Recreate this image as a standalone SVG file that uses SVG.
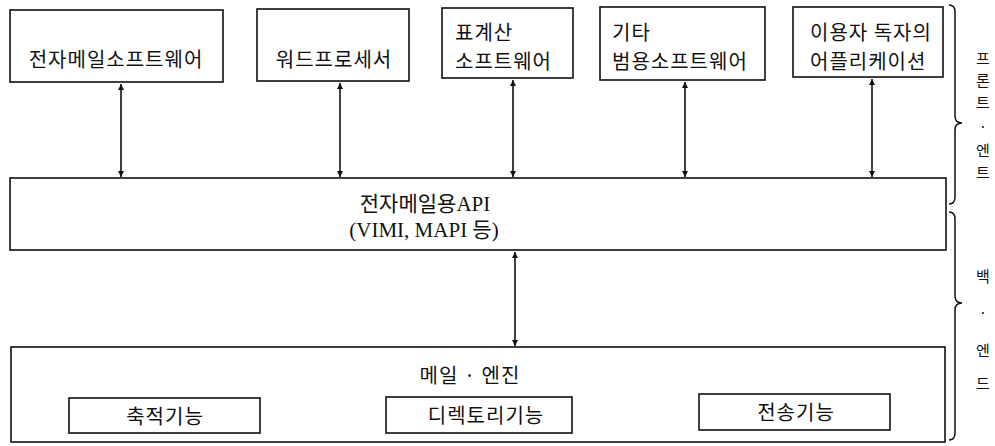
<svg xmlns="http://www.w3.org/2000/svg" width="995" height="446" viewBox="0 0 995 446">
<style>
.box{fill:#fff;stroke:#111;stroke-width:1.6}
.t{font-family:"Noto Sans CJK KR","Noto Sans",sans-serif;font-size:20px;fill:#111;letter-spacing:1px}
.v{font-family:"Noto Sans CJK KR","Noto Sans",sans-serif;font-size:15px;fill:#111;text-anchor:middle}
.s{font-family:"Liberation Serif","Noto Sans CJK KR",serif;font-size:21px;fill:#111}
.c{stroke:#111;stroke-width:1.6;fill:none}
.br{stroke:#111;stroke-width:1.5;fill:none}
</style>
<defs>
<marker id="ah" viewBox="0 0 6 10" refX="6" refY="5" markerWidth="6" markerHeight="10" markerUnits="userSpaceOnUse" orient="auto-start-reverse">
<path d="M0,2 L6,5 L0,8 Z" fill="#111"/>
</marker>
</defs>
<rect width="995" height="446" fill="#fff"/>
<g id="connectors">
<line class="c" x1="121" y1="84" x2="121" y2="177" marker-start="url(#ah)" marker-end="url(#ah)"/>
<line class="c" x1="340" y1="83" x2="340" y2="177" marker-start="url(#ah)" marker-end="url(#ah)"/>
<line class="c" x1="513" y1="80" x2="513" y2="177" marker-start="url(#ah)" marker-end="url(#ah)"/>
<line class="c" x1="685" y1="82" x2="685" y2="177" marker-start="url(#ah)" marker-end="url(#ah)"/>
<line class="c" x1="872" y1="79" x2="872" y2="177" marker-start="url(#ah)" marker-end="url(#ah)"/>
<line class="c" x1="515" y1="252" x2="515" y2="346" marker-start="url(#ah)" marker-end="url(#ah)"/>
</g>
<g id="n1"><rect class="box" x="10" y="10" width="213" height="72"/><text class="t" x="116" y="67" text-anchor="middle">전자메일소프트웨어</text></g>
<g id="n2"><rect class="box" x="257" y="9" width="152" height="72"/><text class="t" x="334" y="67" text-anchor="middle">워드프로세서</text></g>
<g id="n3"><rect class="box" x="442" y="8" width="131" height="70"/><text class="t" x="455" y="40">표계산</text><text class="t" x="455" y="69">소프트웨어</text></g>
<g id="n4"><rect class="box" x="600" y="7" width="165" height="73"/><text class="t" x="612" y="40">기타</text><text class="t" x="612" y="69">범용소프트웨어</text></g>
<g id="n5"><rect class="box" x="793" y="7" width="150" height="70"/><text class="t" x="810" y="40">이용자 독자의</text><text class="t" x="810" y="69">어플리케이션</text></g>
<g id="api"><rect class="box" x="10" y="178" width="936" height="72"/><text class="s" x="425" y="211" text-anchor="middle">전자메일용API</text><text class="s" x="424" y="237" text-anchor="middle">(VIMI, MAPI 등)</text></g>
<g id="engine"><rect class="box" x="11" y="347" width="934" height="95"/><text class="t" x="470" y="383" text-anchor="middle">메일 · 엔진</text>
<g id="e1"><rect class="box" x="69" y="398" width="191" height="35"/><text class="t" x="165" y="424" text-anchor="middle">축적기능</text></g>
<g id="e2"><rect class="box" x="386" y="397" width="186" height="36"/><text class="t" x="486" y="423" text-anchor="middle">디렉토리기능</text></g>
<g id="e3"><rect class="box" x="699" y="394" width="191" height="36"/><text class="t" x="796" y="420" text-anchor="middle">전송기능</text></g>
</g>
<g id="front">
<path class="br" d="M949,5 Q955,5 955,12 L955,116 Q955,123 962,123 Q955,123 955,130 L955,197 Q955,204 949,204"/>
<text class="v" x="983" y="64">프</text>
<text class="v" x="983" y="86">론</text>
<text class="v" x="983" y="108">트</text>
<text class="v" x="983" y="132">·</text>
<text class="v" x="983" y="156">엔</text>
<text class="v" x="983" y="178">트</text>
</g>
<g id="back">
<path class="br" d="M949,212 Q955,212 955,219 L955,296 Q955,303 962,303 Q955,303 955,310 L955,433 Q955,440 949,440"/>
<text class="v" x="983" y="282">백</text>
<text class="v" x="983" y="318">·</text>
<text class="v" x="983" y="356">엔</text>
<text class="v" x="983" y="389">드</text>
</g>
</svg>
